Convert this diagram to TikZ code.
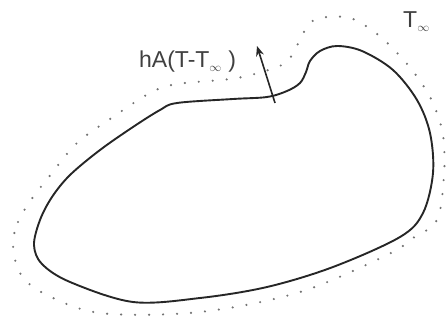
\documentclass[tikz,border=0pt]{standalone}
\usepackage{fontspec}
\setmainfont{Liberation Sans}
\usetikzlibrary{arrows.meta}
\begin{document}
\begin{tikzpicture}[x=1pt,y=-1pt,
  body/.style={line width=1.9pt,black!85},
  dots/.style={gray!90!black,line width=2.4pt,line cap=round,dash pattern=on 0pt off 14pt},
  lbl/.style={inner sep=0pt,text=black!75,font=\fontsize{23}{26}\selectfont}]
\useasboundingbox (0,0) rectangle (446,320);
% body outline
\draw[body] plot[smooth cycle,tension=0.55] coordinates{
 (34,245) (40,220) (52,197) (70,175) (100,150) (133,127) (160,110) (177,103)
 (233,99) (267,97) (287,91) (300,83) (306,72) (310,61) (320,51) (337,46) (362,51)
 (393,70) (417,100) (430,133) (433,173) (423,213) (400,237) (333,267)
 (267,287) (200,298) (133,302) (70,282) (42,264)};
% surroundings (dotted)
\draw[dots] plot[smooth cycle,tension=0.55] coordinates{
 (13,245) (18,222) (31,200) (48,178) (77,143) (113,117) (150,93) (177,84)
 (237,78) (282,65) (293,53) (307,27) (320,18) (350,18) (377,34) (400,56) (418,78)
 (433,103) (443,135) (444,175) (437,220) (413,238) (387,255) (300,292)
 (200,312) (100,313) (43,293) (20,273)};
% heat flux arrow
\coordinate (s) at (275,103);
\coordinate (e) at (257,46);
\draw[line width=1.6pt,black!85,-{Stealth[length=10pt,width=8pt]}] (s) -- (e);
\node[lbl,anchor=base west] (q) at (139,68) {hA(T-T\textsubscript{\fontsize{12}{12}\selectfont$\infty$} )};
\node[lbl,anchor=base west] (tinf) at (403,28) {T\textsubscript{\fontsize{12}{12}\selectfont$\infty$}};
\end{tikzpicture}
\end{document}
